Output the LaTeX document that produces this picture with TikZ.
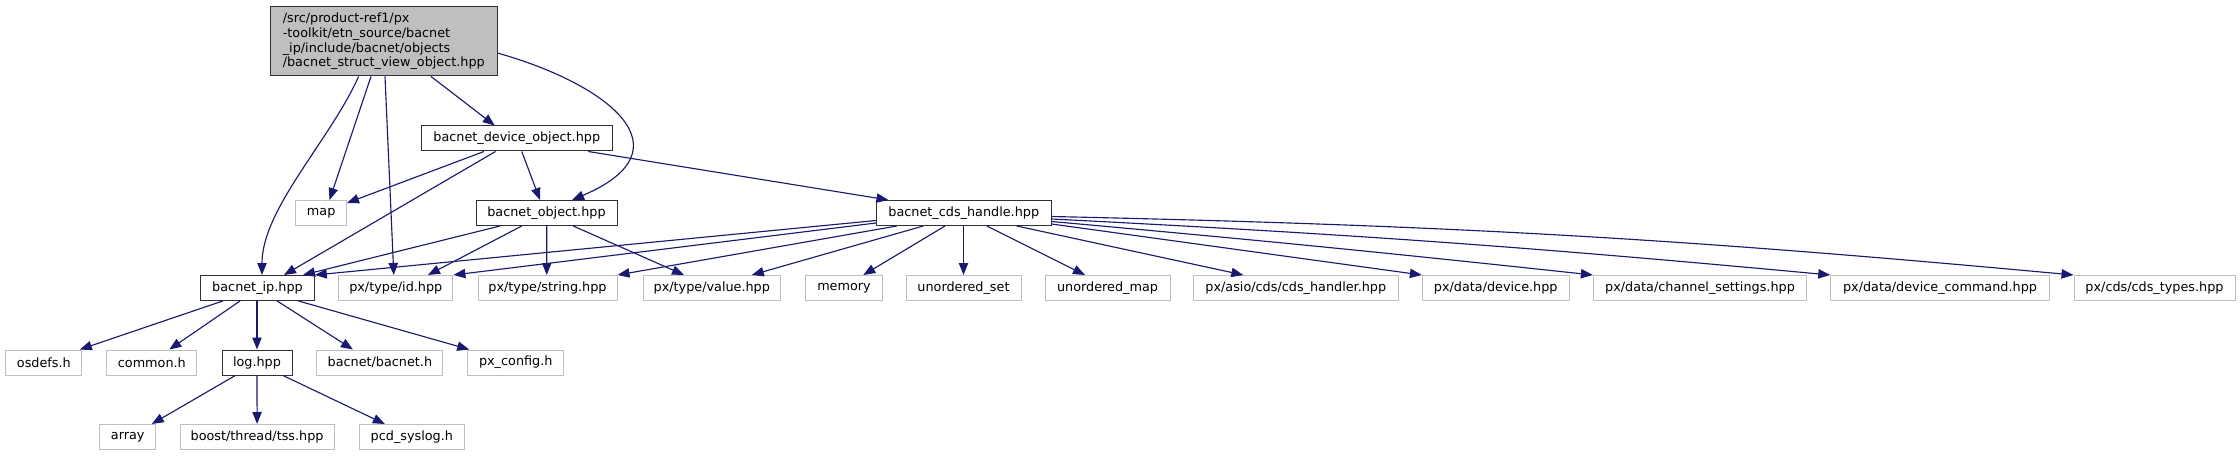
\documentclass[tikz,border=0pt]{standalone}
\usepackage{fontspec}
\setmainfont{DejaVu Sans}
\usetikzlibrary{arrows.meta,calc}
\definecolor{edgec}{HTML}{191970}
\definecolor{leafc}{HTML}{BFBFBF}
\definecolor{darkb}{HTML}{303030}
\begin{document}
\begin{tikzpicture}[x=0.75pt,y=-0.75pt,
  box/.style={draw, line width=0.75pt, minimum height=18.75pt, inner sep=0pt,
    font=\fontsize{9.6}{11}\selectfont, text=black},
  leaf/.style={box, draw=leafc, fill=white},
  inbox/.style={box, draw=darkb, fill=white},
  mainbox/.style={box, draw=darkb, fill=leafc, align=left, minimum height=51.75pt},
  e/.style={draw=edgec, line width=0.85pt, -{Triangle[length=9pt,width=7pt]}}
]
\useasboundingbox (0,0) rectangle (2240,456);

% nodes
\node[mainbox, minimum width=169.8pt] (T) at (383.8,41.5)
  {/src/product-ref1/px\\-toolkit/etn\_source/bacnet\\\_ip/include/bacnet/objects\\/bacnet\_struct\_view\_object.hpp};
\node[inbox, minimum width=142.9pt] (D) at (516.75,138.5) {bacnet\_device\_object.hpp};
\node[leaf, minimum width=37.9pt] (map) at (321.2,213) {map};
\node[inbox, minimum width=105.75pt] (O) at (546.5,213) {bacnet\_object.hpp};
\node[inbox, minimum width=130.9pt] (C) at (963.75,213) {bacnet\_cds\_handle.hpp};
\node[inbox, minimum width=85.2pt] (I) at (257.5,288) {bacnet\_ip.hpp};
\node[leaf, minimum width=85.65pt] (id) at (395.8,288) {px/type/id.hpp};
\node[leaf, minimum width=104.25pt] (string) at (547.5,288) {px/type/string.hpp};
\node[leaf, minimum width=103.2pt] (value) at (711.8,288) {px/type/value.hpp};
\node[leaf, minimum width=57.45pt] (memory) at (844,288) {memory};
\node[leaf, minimum width=86.25pt] (uset) at (963.5,288) {unordered\_set};
\node[leaf, minimum width=93.75pt] (umap) at (1107.5,288) {unordered\_map};
\node[leaf, minimum width=153.75pt] (cdsh) at (1295.8,288) {px/asio/cds/cds\_handler.hpp};
\node[leaf, minimum width=110pt] (device) at (1495.7,288) {px/data/device.hpp};
\node[leaf, minimum width=160pt] (chan) at (1700,288) {px/data/channel\_settings.hpp};
\node[leaf, minimum width=163.9pt] (devcmd) at (1940,288) {px/data/device\_command.hpp};
\node[leaf, minimum width=120.75pt] (cdst) at (2154.5,288) {px/cds/cds\_types.hpp};
\node[leaf, minimum width=57.2pt] (osdefs) at (43.85,362.5) {osdefs.h};
\node[leaf, minimum width=67.5pt] (common) at (151.85,362.5) {common.h};
\node[inbox, minimum width=52.5pt] (L) at (257,362.5) {log.hpp};
\node[leaf, minimum width=94.5pt] (bacneth) at (379.9,362.5) {bacnet/bacnet.h};
\node[leaf, minimum width=72pt] (pxconf) at (515.75,362.5) {px\_config.h};
\node[leaf, minimum width=41.8pt] (array) at (127.75,437) {array};
\node[leaf, minimum width=115.35pt] (boost) at (257.1,437) {boost/thread/tss.hpp};
\node[leaf, minimum width=78.75pt] (pcd) at (411.85,437) {pcd\_syslog.h};

% edges from main file
\draw[e] ($(T.south)+(-25.2,0)$) .. controls +(-28.6,64) and +(0,-66) .. ($(I.north)+(4.5,0)$);
\draw[e] ($(T.south)+(-12.8,0)$) -- ($(map.north)+(8.3,0)$);
\draw[e] ($(T.south)+(1.2,0)$) -- ($(id.north)+(-2,0)$);
\draw[e] ($(T.south)+(47.2,0)$) -- ($(D.north)+(-22,0)$);
\draw[e] ($(T.east)+(0,11.5)$) .. controls +(113,32) and +(118,-50) .. ($(O.north)+(25.5,0)$);

% edges from bacnet_device_object
\draw[e] ($(D.south)+(-32.75,0)$) -- ($(map.east)+(0,-10)$);
\draw[e] ($(D.south)+(-21.25,0)$) -- ($(I.north)+(26.5,0)$);
\draw[e] ($(D.south)+(5,0)$) -- ($(O.north)+(-6.5,0)$);
\draw[e] ($(D.south)+(71.5,0)$) -- ($(C.north west)+(12.5,0)$);

% edges from bacnet_object
\draw[e] ($(O.south)+(-46.5,0)$) -- ($(I.north)+(45.5,0)$);
\draw[e] ($(O.south)+(-24.8,0)$) -- ($(id.north)+(32.2,0)$);
\draw[e] ($(O.south)+(0.2,0)$) -- ($(string.north)+(-0.8,0)$);
\draw[e] ($(O.south)+(26.8,0)$) -- ($(value.north)+(-27.8,0)$);

% edges from bacnet_cds_handle
\draw[e] ($(C.west)+(0,7.5)$) -- (I.north east);
\draw[e] ($(C.west)+(0,10)$) -- (id.north east);
\draw[e] ($(C.south)+(-67,0)$) -- (string.north east);
\draw[e] ($(C.south)+(-40.5,0)$) -- ($(value.north)+(40,0)$);
\draw[e] ($(C.south)+(-18.75,0)$) -- ($(memory.north)+(19.3,0)$);
\draw[e] ($(C.south)+(-0.25,0)$) -- (uset.north);
\draw[e] ($(C.south)+(23,0)$) -- ($(umap.north)+(-22.5,0)$);
\draw[e] ($(C.south)+(53,0)$) -- ($(cdsh.north)+(-52.5,0)$);
\draw[e] ($(C.east)+(0,11)$) -- (device.north west);
\draw[e] ($(C.east)+(0,8.5)$) to[bend left=0.5] (chan.north west);
\draw[e] ($(C.east)+(0,6)$) to[bend left=1.2] (devcmd.north west);
\draw[e] ($(C.east)+(0,3.5)$) to[bend left=2] (cdst.north west);

% edges from bacnet_ip
\draw[e] ($(I.south)+(-34.8,0)$) -- ($(osdefs.north)+(36,0)$);
\draw[e] ($(I.south)+(-17.5,0)$) -- ($(common.north)+(17.5,0)$);
\draw[e] ($(I.south)+(-0.5,0)$) -- (L.north);
\draw[e] ($(I.south)+(19.7,0)$) -- ($(bacneth.north)+(-27,0)$);
\draw[e] ($(I.south)+(41,0)$) -- ($(pxconf.north west)+(2,0)$);

% edges from log
\draw[e] ($(L.south)+(-21.7,0)$) -- ($(array.north)+(24,0)$);
\draw[e] (L.south) -- (boost.north);
\draw[e] ($(L.south)+(26,0)$) -- ($(pcd.north)+(-27,0)$);
\end{tikzpicture}
\end{document}
